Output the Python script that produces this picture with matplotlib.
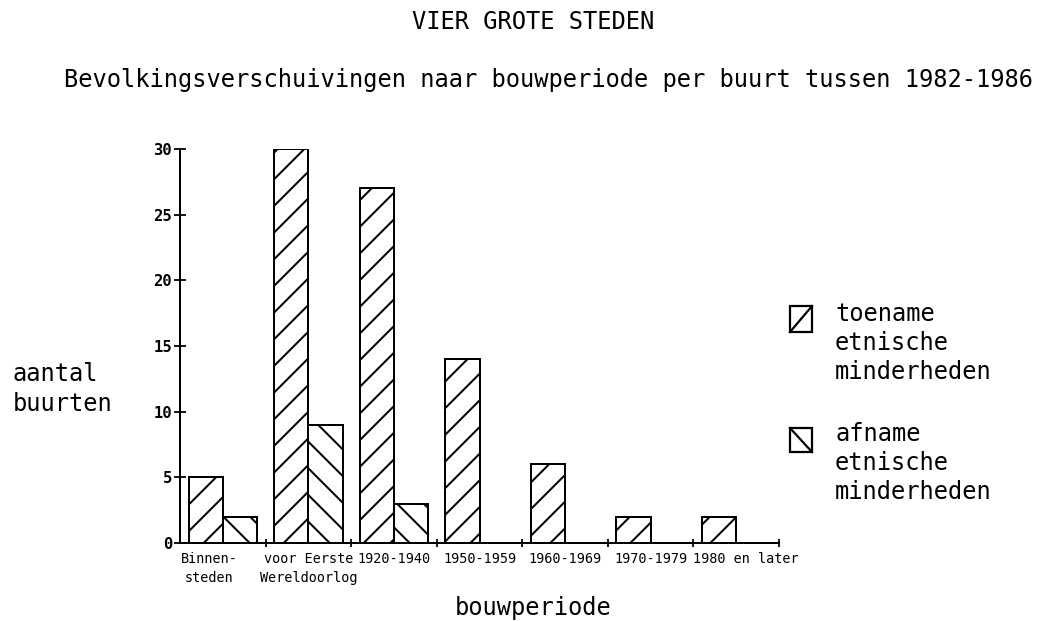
import numpy as np
import matplotlib
matplotlib.use('Agg')
import matplotlib.pyplot as plt
import matplotlib.transforms as mtransforms
from matplotlib.patches import Rectangle
from matplotlib.lines import Line2D

# Data
categories = ['Binnen-\nsteden', 'voor Eerste\nWereldoorlog', '1920-1940', '1950-1959',
              '1960-1969', '1970-1979', '1980 en later']
toename = [5, 30, 27, 14, 6, 2, 2]
afname = [2, 9, 3, 0, 0, 0, 0]
yticks = [0, 5, 10, 15, 20, 25, 30]

plt.rcParams['font.family'] = ['DejaVu Sans Mono']
plt.rcParams['hatch.linewidth'] = 0.9

DPI = 160
fig = plt.figure(figsize=(1040 / DPI, 621 / DPI), dpi=DPI)
ax = fig.add_axes([0.1731, 0.1256, 0.5760, 0.6345])

x = np.arange(len(categories))
ax.bar(x + 0.1, toename, width=0.4, align='edge', facecolor='white',
       edgecolor='black', linewidth=0.9, hatch='//')
ax.bar(x + 0.5, afname, width=0.4, align='edge', facecolor='white',
       edgecolor='black', linewidth=0.9, hatch='\\\\')

ax.set_xlim(0, len(categories))
ax.set_ylim(0, 30)
ax.spines['top'].set_visible(False)
ax.spines['right'].set_visible(False)
for s in ['left', 'bottom']:
    ax.spines[s].set_linewidth(0.9)

ax.set_yticks(yticks)
ax.set_yticklabels([str(v) for v in yticks], fontsize=7, fontweight='bold')
ax.tick_params(axis='y', direction='inout', length=5, width=0.8, pad=1)

ax.set_xticks(np.arange(1, len(categories) + 1))
ax.set_xticklabels([])
ax.tick_params(axis='x', which='major', direction='inout', length=4, width=0.8)
ax.set_xticks(x + 0.5, minor=True)
ax.set_xticklabels(categories, minor=True, fontsize=6.1, linespacing=1.5)
ax.tick_params(axis='x', which='minor', length=0, pad=4)

# nudge first and last category labels like in the original
labels = ax.get_xticklabels(minor=True)
labels[0].set_transform(labels[0].get_transform() +
                        mtransforms.ScaledTranslation(-14 / DPI, 0, fig.dpi_scale_trans))
labels[-1].set_transform(labels[-1].get_transform() +
                         mtransforms.ScaledTranslation(10 / DPI, 0, fig.dpi_scale_trans))

# Titles and axis labels
fig.text(0.513, 0.965, 'VIER GROTE STEDEN', ha='center', va='center', fontsize=10.7)
fig.text(0.527, 0.871, 'Bevolkingsverschuivingen naar bouwperiode per buurt tussen 1982-1986',
         ha='center', va='center', fontsize=10.7)
fig.text(0.012, 0.374, 'aantal\nbuurten', ha='left', va='center', fontsize=10.7, linespacing=1.3)
fig.text(0.513, 0.021, 'bouwperiode', ha='center', va='center', fontsize=10.7)

# Legend
legend_items = [('toename\netnische\nminderheden', 0.448, 0.4654, 0.5072, '/'),
                ('afname\netnische\nminderheden', 0.2544, 0.2721, 0.3108, '\\')]
for label, yc, y0, y1, kind in legend_items:
    x0, x1 = 0.7596, 0.7808
    fig.patches.append(Rectangle((x0, y0), x1 - x0, y1 - y0, transform=fig.transFigure,
                                 facecolor='white', edgecolor='black', linewidth=1.0))
    if kind == '/':
        fig.lines.append(Line2D([x0, x1], [y0, y1], transform=fig.transFigure,
                                color='black', linewidth=1.0))
    else:
        fig.lines.append(Line2D([x0, x1], [y1, y0], transform=fig.transFigure,
                                color='black', linewidth=1.0))
    fig.text(0.803, yc, label, ha='left', va='center', fontsize=10.7, linespacing=1.25)

fig.savefig('out.png', dpi=DPI)
